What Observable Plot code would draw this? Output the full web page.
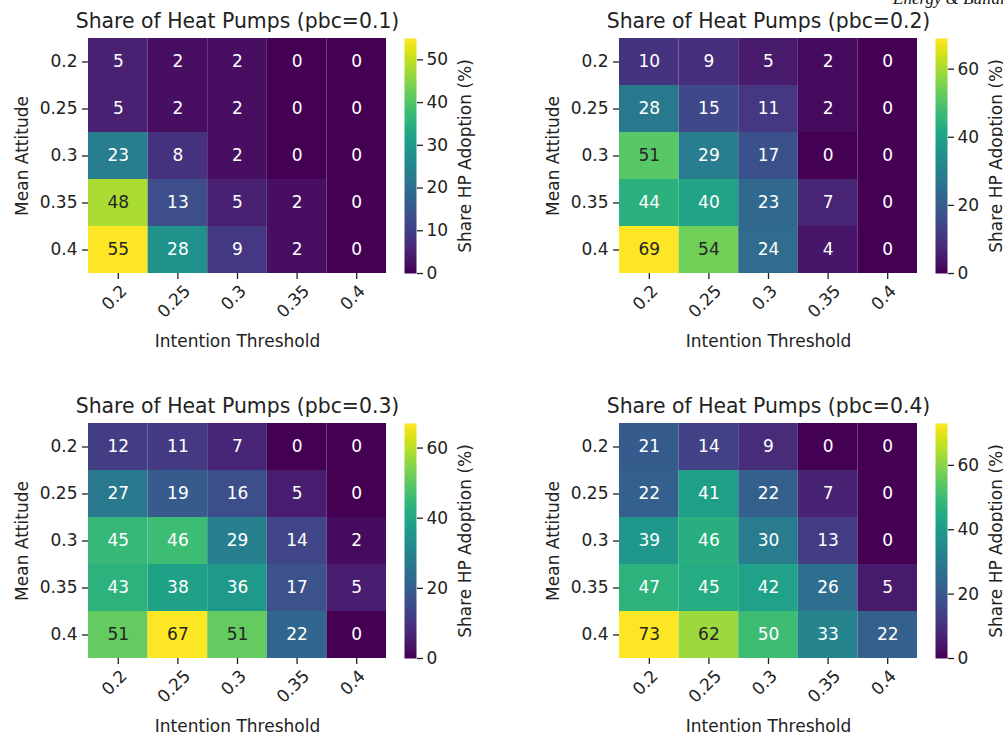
<!DOCTYPE html>
<html><head><meta charset="utf-8">
<script src="https://cdn.jsdelivr.net/npm/d3@7"></script>
<script src="https://cdn.jsdelivr.net/npm/@observablehq/plot@0.6"></script>
<style>
html,body{margin:0;padding:0;background:#fff;overflow:hidden;}
#root{position:relative;width:1003px;height:733px;overflow:hidden;background:#fff;font-family:"DejaVu Sans",sans-serif;}
#root svg{position:absolute;overflow:visible;}
#journal{position:absolute;left:893px;top:-10px;font-family:"Liberation Serif",serif;font-style:italic;font-size:17px;line-height:17px;white-space:nowrap;color:#111;z-index:5;}
</style></head><body><div id="root"><div id="journal">Energy &amp; Buildings</div></div>
<script>
// ---- data ----
const intentionThresholds = ["0.2", "0.25", "0.3", "0.35", "0.4"];   // x categories
const meanAttitudes = ["0.2", "0.25", "0.3", "0.35", "0.4"];         // y categories
const pbcLevels = ["0.1", "0.2", "0.3", "0.4"];
// rows = mean attitude, columns = intention threshold
const sharePbc01 = [
  [5, 2, 2, 0, 0],
  [5, 2, 2, 0, 0],
  [23, 8, 2, 0, 0],
  [48, 13, 5, 2, 0],
  [55, 28, 9, 2, 0]
];
const sharePbc02 = [
  [10, 9, 5, 2, 0],
  [28, 15, 11, 2, 0],
  [51, 29, 17, 0, 0],
  [44, 40, 23, 7, 0],
  [69, 54, 24, 4, 0]
];
const sharePbc03 = [
  [12, 11, 7, 0, 0],
  [27, 19, 16, 5, 0],
  [45, 46, 29, 14, 2],
  [43, 38, 36, 17, 5],
  [51, 67, 51, 22, 0]
];
const sharePbc04 = [
  [21, 14, 9, 0, 0],
  [22, 41, 22, 7, 0],
  [39, 46, 30, 13, 0],
  [47, 45, 42, 26, 5],
  [73, 62, 50, 33, 22]
];
const colorbarTicks01 = [0, 10, 20, 30, 40, 50];
const colorbarTicks02 = [0, 20, 40, 60];
const colorbarTicks03 = [0, 20, 40, 60];
const colorbarTicks04 = [0, 20, 40, 60];

const panels = [
  {pbc: pbcLevels[0], values: sharePbc01, ticks: colorbarTicks01, left: 0, top: 0},
  {pbc: pbcLevels[1], values: sharePbc02, ticks: colorbarTicks02, left: 531, top: 0},
  {pbc: pbcLevels[2], values: sharePbc03, ticks: colorbarTicks03, left: 0, top: 385},
  {pbc: pbcLevels[3], values: sharePbc04, ticks: colorbarTicks04, left: 531, top: 385}
];

const FONT = "DejaVu Sans";
const INK = "#222";

function relLum(c) {
  const {r, g, b} = d3.rgb(c);
  const f = v => { v /= 255; return v <= 0.03928 ? v / 12.92 : Math.pow((v + 0.055) / 1.055, 2.4); };
  return 0.2126 * f(r) + 0.7152 * f(g) + 0.0722 * f(b);
}

function heatmap(values, pbc) {
  const rows = [];
  meanAttitudes.forEach((a, i) => intentionThresholds.forEach((t, j) => rows.push({a, t, v: values[i][j]})));
  const vmax = d3.max(rows, d => d.v);
  const isLight = d => relLum(d3.interpolateViridis(d.v / vmax)) > 0.408;
  const labelDy = c => 12.5 + 0.354 * (17 * (0.636 * (c.length - 1) + 0.318) + 17);
  return Plot.plot({
    width: 400, height: 355,
    marginLeft: 88, marginRight: 14, marginTop: 38, marginBottom: 82,
    style: {background: "transparent", fontFamily: FONT, fontSize: "17px", color: INK, overflow: "visible"},
    x: {domain: intentionThresholds, padding: 0, round: false, axis: null},
    y: {domain: meanAttitudes, padding: 0, round: false, axis: null},
    color: {type: "linear", scheme: "viridis", domain: [0, vmax]},
    marks: [
      Plot.cell(rows, {x: "t", y: "a", fill: "v", inset: 0}),
      Plot.text(rows, {filter: d => !isLight(d), x: "t", y: "a", text: d => String(d.v), fill: "white", fontSize: 17}),
      Plot.text(rows, {filter: isLight, x: "t", y: "a", text: d => String(d.v), fill: "#262626", fontSize: 17}),
      Plot.axisY({tickSize: 6, tickPadding: 5, label: null, fontSize: 17, strokeWidth: 1.3}),
      Plot.axisX({tickSize: 6, tickFormat: () => "", label: null, strokeWidth: 1.3}),
      ...intentionThresholds.map(c => Plot.text([c], {x: d => d, frameAnchor: "bottom", textAnchor: "middle", rotate: -45, dy: labelDy(c), fontSize: 17})),
      Plot.text([`Share of Heat Pumps (pbc=${pbc})`], {frameAnchor: "top", textAnchor: "middle", lineAnchor: "bottom", dy: -11, fontSize: 20.4}),
      Plot.text(["Intention Threshold"], {frameAnchor: "bottom", textAnchor: "middle", lineAnchor: "bottom", dy: 73, fontSize: 17}),
      Plot.text(["Mean Attitude"], {frameAnchor: "left", textAnchor: "middle", rotate: -90, lineAnchor: "bottom", dx: -61, fontSize: 17})
    ]
  });
}

function colorbar(values, ticks) {
  const vmax = d3.max(values.flat());
  return Plot.plot({
    width: 100, height: 355,
    marginLeft: 12, marginRight: 76, marginTop: 38, marginBottom: 82,
    style: {background: "transparent", fontFamily: FONT, fontSize: "17px", color: INK, overflow: "visible"},
    x: {domain: [0, 1], axis: null},
    y: {domain: [0, vmax], axis: null},
    color: {type: "linear", scheme: "viridis", domain: [0, vmax]},
    marks: [
      Plot.raster({x1: 0, x2: 1, y1: 0, y2: vmax, fill: (x, y) => y}),
      Plot.axisY({anchor: "right", ticks, tickSize: 6, tickPadding: 4, label: null, fontSize: 17, strokeWidth: 1.3}),
      Plot.text(["Share HP Adoption (%)"], {frameAnchor: "right", textAnchor: "middle", rotate: -90, lineAnchor: "bottom", dx: 54, fontSize: 17})
    ]
  });
}

const root = document.getElementById("root");
for (const p of panels) {
  const h = heatmap(p.values, p.pbc);
  h.style.left = p.left + "px";
  h.style.top = p.top + "px";
  root.appendChild(h);
  const c = colorbar(p.values, p.ticks);
  c.style.left = (p.left + 392) + "px";
  c.style.top = p.top + "px";
  root.appendChild(c);
}
</script>
</body></html>
